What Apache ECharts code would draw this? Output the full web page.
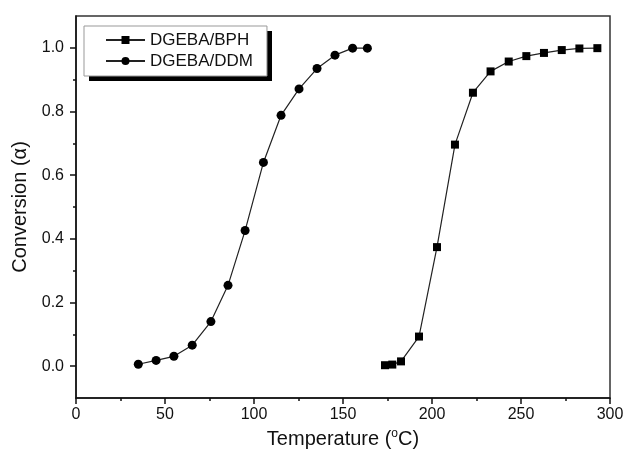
<!DOCTYPE html>
<html>
<head>
<meta charset="utf-8">
<script src="https://cdn.jsdelivr.net/npm/echarts@6/dist/echarts.min.js"></script>
<style>
  html, body { margin: 0; padding: 0; background: #fff; }
  #chart { width: 627px; height: 456px; }
</style>
</head>
<body>
<div id="chart"></div>
<script>
// DGEBA/BPH (squares)
const BPH_T = [173.6, 177.7, 182.6, 192.7, 202.8, 212.9, 223.0, 232.9, 243.1, 253.0, 262.9, 272.9, 282.8, 292.9];
const BPH_A = [0.003, 0.005, 0.015, 0.093, 0.374, 0.696, 0.859, 0.926, 0.957, 0.974, 0.984, 0.993, 0.998, 0.999];
// DGEBA/DDM (circles)
const DDM_T = [35.0, 45.0, 55.0, 65.3, 75.8, 85.4, 95.0, 105.3, 115.2, 125.3, 135.4, 145.5, 155.4, 163.7];
const DDM_A = [0.006, 0.018, 0.031, 0.066, 0.140, 0.254, 0.426, 0.640, 0.788, 0.871, 0.935, 0.977, 0.999, 0.999];

const Y_MAJOR = [0, 0.2, 0.4, 0.6, 0.8, 1.0];
const Y_MINOR = [0.1, 0.3, 0.5, 0.7, 0.9];

const FONT = '"Liberation Sans", Arial, sans-serif';
const pairs = (xs, ys) => xs.map((x, i) => [x, ys[i]]);

const chart = echarts.init(document.getElementById('chart'), null, { renderer: 'canvas' });

const lineCommon = {
  type: 'line', smooth: false,
  lineStyle: { color: '#222', width: 1.2 },
  itemStyle: { color: '#000' },
  emphasis: { disabled: true },
};

chart.setOption({
  animation: false,
  textStyle: { fontFamily: FONT },
  grid: { left: 76, right: 17, top: 16, bottom: 58, show: true, borderColor: '#333', borderWidth: 1.5, backgroundColor: 'transparent' },
  // solid drop shadow behind the legend box
  graphic: [{
    type: 'rect', z: 1, silent: true,
    shape: { x: 89, y: 31, width: 183, height: 50 },
    style: { fill: '#000' },
  }],
  legend: {
    orient: 'vertical', left: 84, top: 26, z: 5,
    padding: [5, 14, 6, 21],
    itemWidth: 39, itemHeight: 10, itemGap: 3,
    backgroundColor: '#fff', borderColor: '#999', borderWidth: 1,
    textStyle: { fontSize: 17, color: '#111', lineHeight: 18, fontFamily: FONT },
    data: ['DGEBA/BPH', 'DGEBA/DDM'],
  },
  xAxis: {
    type: 'value', min: 0, max: 300, interval: 50,
    axisLine: { show: true, onZero: false, lineStyle: { color: '#111', width: 1.5 } },
    axisTick: { show: true, length: 6, lineStyle: { color: '#111', width: 1.5 } },
    minorTick: { show: true, splitNumber: 2, length: 3, lineStyle: { color: '#111', width: 1.5 } },
    splitLine: { show: false },
    axisLabel: { fontSize: 16, color: '#111', margin: 9 },
    name: '{t|Temperature (}{s|o}{t|C)}',
    nameLocation: 'middle', nameGap: 30,
    nameTextStyle: {
      rich: {
        t: { fontSize: 20, color: '#111', fontFamily: FONT },
        s: { fontSize: 12, color: '#111', fontFamily: FONT, verticalAlign: 'top', padding: [0, 0, 10, 0] },
      },
    },
  },
  yAxis: [{
    type: 'value', min: -0.1, max: 1.1,
    axisLine: { show: true, onZero: false, lineStyle: { color: '#111', width: 1.5 } },
    axisTick: { show: true, length: 6, customValues: Y_MAJOR, lineStyle: { color: '#111', width: 1.5 } },
    axisLabel: { fontSize: 16, color: '#111', margin: 12, customValues: Y_MAJOR, formatter: (v) => v.toFixed(1) },
    splitLine: { show: false },
    name: 'Conversion (α)', nameLocation: 'middle', nameGap: 45,
    nameTextStyle: { fontSize: 20, color: '#111', fontFamily: FONT },
  }, {
    type: 'value', min: -0.1, max: 1.1, position: 'left',
    axisLine: { show: false },
    axisTick: { show: true, length: 3, customValues: Y_MINOR, lineStyle: { color: '#111', width: 1.5 } },
    axisLabel: { show: false },
    splitLine: { show: false },
  }],
  series: [
    Object.assign({ name: 'DGEBA/BPH', symbol: 'rect', symbolSize: 8, data: pairs(BPH_T, BPH_A) }, lineCommon),
    Object.assign({ name: 'DGEBA/DDM', symbol: 'circle', symbolSize: 9, data: pairs(DDM_T, DDM_A) }, lineCommon),
  ],
});
</script>
</body>
</html>
